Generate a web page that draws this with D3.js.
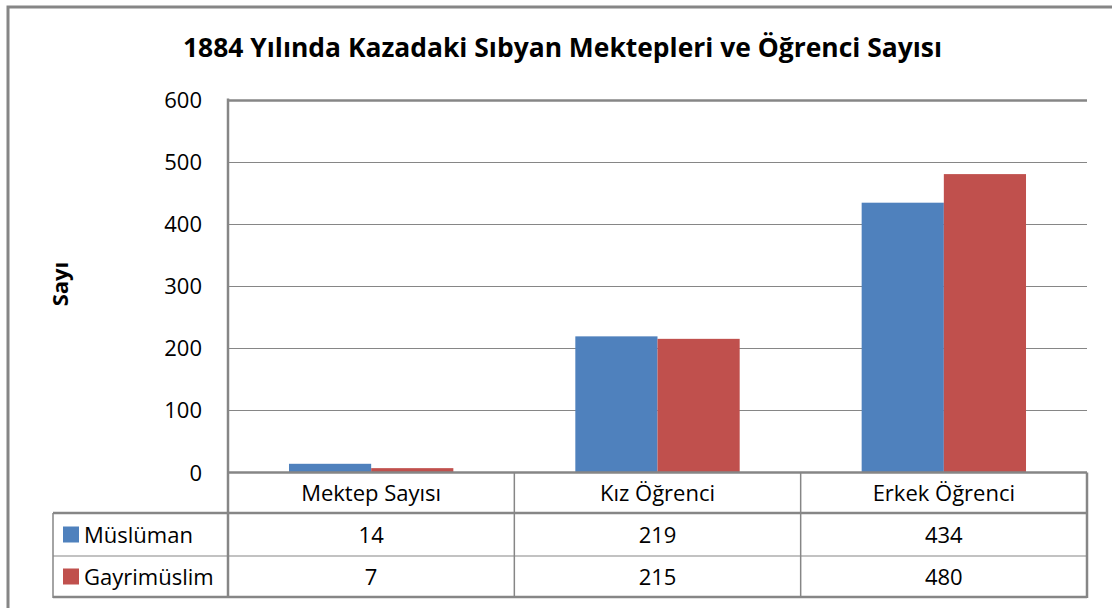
<!DOCTYPE html>
<html>
<head>
  <meta charset="utf-8">
  <script src="https://cdnjs.cloudflare.com/ajax/libs/d3/7.8.5/d3.min.js"></script>
  <style>
    body { margin: 0; background: #fff; }
    text { font-family: "Open Sans", sans-serif; fill: #000; }
  </style>
</head>
<body>
  <svg></svg>
  <script>
    // chart data
    var categories = ["Mektep Sayısı", "Kız Öğrenci", "Erkek Öğrenci"];
    var seriesNames = ["Müslüman", "Gayrimüslim"];
    var muslim = [14, 219, 434];
    var nonMuslim = [7, 215, 480];
    var yTicks = [0, 100, 200, 300, 400, 500, 600];
    var colors = ["#4F81BD", "#C0504D"];
    var seriesValues = [muslim, nonMuslim];

    var W = 1112, H = 608;
    var gray = "#868686";
    var svg = d3.select("svg").attr("width", W).attr("height", H);

    // outer chart border
    svg.append("rect")
      .attr("x", 8).attr("y", 7)
      .attr("width", W + 20).attr("height", H + 20)
      .attr("fill", "#fff").attr("stroke", gray).attr("stroke-width", 3);

    var plot = { left: 228, right: 1087, top: 99.5, bottom: 472.5 };
    var rowHeader = { left: 53 };
    var rows = [472.5, 513, 556, 597];

    // scales
    var y = d3.scaleLinear().domain([0, 600]).range([plot.bottom, plot.top]);
    var gapRatio = 0.426;
    var x = d3.scaleBand().domain(categories)
      .range([plot.left, plot.right])
      .paddingInner(gapRatio).paddingOuter(gapRatio / 2);
    var xs = d3.scaleBand().domain(seriesNames).range([0, x.bandwidth()]);
    var xCol = d3.scaleBand().domain(categories).range([plot.left, plot.right]);

    // title
    svg.append("text")
      .attr("x", 183).attr("y", 57)
      .attr("textLength", 759).attr("lengthAdjust", "spacingAndGlyphs")
      .style("font-size", "27px").style("font-weight", "bold")
      .text("1884 Yılında Kazadaki Sıbyan Mektepleri ve Öğrenci Sayısı");

    // y axis label
    svg.append("text")
      .attr("transform", "translate(68,284) rotate(-90)")
      .attr("text-anchor", "middle")
      .style("font-size", "22px").style("font-weight", "bold")
      .text("Sayı");

    // gridlines
    svg.append("g").selectAll("line")
      .data(yTicks.slice(1))
      .enter().append("line")
      .attr("x1", plot.left).attr("x2", plot.right)
      .attr("y1", function(d) { return Math.round(y(d)) + 0.5; })
      .attr("y2", function(d) { return Math.round(y(d)) + 0.5; })
      .attr("stroke", gray)
      .attr("stroke-width", function(d) { return d === 600 ? 2.5 : 1.2; });

    // y tick labels
    svg.append("g").selectAll("text")
      .data(yTicks)
      .enter().append("text")
      .attr("x", 202)
      .attr("y", function(d) { return y(d) + 8; })
      .attr("text-anchor", "end")
      .style("font-size", "22px")
      .text(function(d) { return d; });

    // bars
    var groups = svg.append("g").selectAll("g")
      .data(seriesNames)
      .enter().append("g")
      .attr("fill", function(d, i) { return colors[i]; });

    groups.selectAll("rect")
      .data(function(d, i) {
        return seriesValues[i].map(function(v, j) {
          return { series: d, cat: categories[j], value: v };
        });
      })
      .enter().append("rect")
      .attr("x", function(d) { return x(d.cat) + xs(d.series); })
      .attr("width", xs.bandwidth())
      .attr("y", function(d) { return y(d.value); })
      .attr("height", function(d) { return y(0) - y(d.value); });

    // data table grid
    var tbl = svg.append("g").attr("stroke", gray);
    tbl.append("line")
      .attr("x1", plot.left).attr("x2", plot.right)
      .attr("y1", rows[0]).attr("y2", rows[0]).attr("stroke-width", 2.5);
    rows.slice(1).forEach(function(r, i) {
      tbl.append("line")
        .attr("x1", rowHeader.left).attr("x2", plot.right)
        .attr("y1", r).attr("y2", r)
        .attr("stroke-width", i === 1 ? 1.2 : 2.5);
    });
    // left axis line
    tbl.append("line")
      .attr("x1", plot.left).attr("x2", plot.left)
      .attr("y1", plot.top - 1).attr("y2", rows[3] + 1)
      .attr("stroke-width", 2.5);
    tbl.append("line")
      .attr("x1", rowHeader.left).attr("x2", rowHeader.left)
      .attr("y1", rows[1]).attr("y2", rows[3] + 1)
      .attr("stroke-width", 1.5);
    categories.forEach(function(c) {
      var xr = xCol(c) + xCol.bandwidth();
      tbl.append("line")
        .attr("x1", xr).attr("x2", xr)
        .attr("y1", rows[0]).attr("y2", rows[3] + 1)
        .attr("stroke-width", xr >= plot.right - 1 ? 2.5 : 1.5);
    });

    // category labels
    svg.append("g").selectAll("text")
      .data(categories)
      .enter().append("text")
      .attr("x", function(d) { return xCol(d) + xCol.bandwidth() / 2; })
      .attr("y", 501)
      .attr("text-anchor", "middle")
      .style("font-size", "22px")
      .text(function(d) { return d; });

    // series rows
    seriesNames.forEach(function(s, i) {
      var top = rows[i + 1], bottom = rows[i + 2];
      var base = (top + bottom) / 2 + 8;
      svg.append("rect")
        .attr("x", 63).attr("y", base - 16)
        .attr("width", 16).attr("height", 16)
        .attr("fill", colors[i]);
      svg.append("text")
        .attr("x", 84).attr("y", base)
        .style("font-size", "22px")
        .text(s);
      svg.append("g").selectAll("text")
        .data(seriesValues[i])
        .enter().append("text")
        .attr("x", function(d, j) { return xCol(categories[j]) + xCol.bandwidth() / 2; })
        .attr("y", base)
        .attr("text-anchor", "middle")
        .style("font-size", "22px")
        .text(function(d) { return d; });
    });
  </script>
</body>
</html>
